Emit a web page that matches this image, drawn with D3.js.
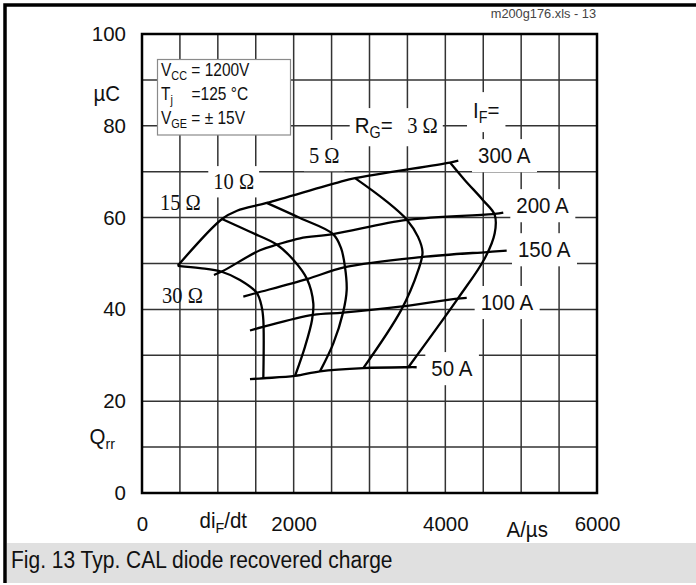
<!DOCTYPE html>
<html><head><meta charset="utf-8">
<script src="https://cdn.jsdelivr.net/npm/d3@7"></script>
<style>body{margin:0;background:#fff}svg{display:block}</style>
</head><body>
<svg id="c" width="696" height="585"></svg>
<script>
// ---------- data (di/dt in A/µs, Qrr in µC) ----------
const xTicks = [0, 2000, 4000, 6000];
const yTicks = [0, 20, 40, 60, 80, 100];
const gridStepX = 500, gridStepY = 10;

// I_F curves (left overshoot, 30Ω, 15Ω, 10Ω, 5Ω, 3Ω, right overshoot + intermediate points)
const if300 = [[471,49.5],[1055,59.7],[1253,61.5],[1644,63.2],[2611,67.8],[2809,68.6],[4062,72.0],[4171,72.4]];
const if200 = [[949,47.5],[1060,48.3],[1556,52.9],[1780,54.1],[2084,55.5],[2519,56.4],[3495,59.5],[4651,60.8],[4764,61.1]];
const if150 = [[1336,42.8],[1513,43.6],[2176,46.6],[2677,49.2],[3679,51.4],[4550,52.5],[4809,52.8]];
const if100 = [[1424,35.4],[1596,36.2],[2255,38.8],[2651,39.3],[3402,40.6],[4128,42.3],[4282,42.5]];
const if50  = [[1424,24.8],[1600,25.0],[2018,25.5],[2347,26.5],[2918,27.2],[3512,27.4],[3622,27.4]];

// R_G curves (from 300 A down to 50 A)
const rg30 = [[471,49.5],[765,49.0],[1051,48.2],[1292,46.4],[1513,43.6],[1578,40.6],[1600,37.7],[1600,25.0]];
const rg15 = [[1055,59.7],[1424,56.9],[1780,54.1],[1995,50.8],[2176,46.6],[2259,41.3],[2242,37.7],[2150,31.9],[2018,25.5]];
const rg10 = [[1644,63.2],[2084,59.9],[2519,56.4],[2624,53.4],[2677,49.2],[2699,44.2],[2651,39.3],[2523,32.6],[2347,26.5]];
const rg5  = [[2809,68.6],[3204,63.8],[3495,59.5],[3640,55.8],[3699,52.5],[3644,48.6],[3419,39.9],[2918,27.2]];
const rg3  = [[4062,72.0],[4255,68.2],[4497,63.8],[4651,60.6],[4651,56.6],[4519,51.1],[4167,42.4],[3512,27.4]];

const ifLabels = ["300 A","200 A","150 A","100 A","50 A"];
const rgLabels = ["30 Ω","15 Ω","10 Ω","5 Ω","3 Ω"];

// ---------- drawing ----------
const W = 696, H = 585;
const ARIAL = "'Liberation Sans', Arial, Helvetica, sans-serif";
const TIMES = "'Liberation Serif', 'Times New Roman', serif";
const svg = d3.select("#c");
const x = d3.scaleLinear().domain([0, 6000]).range([142, 597]);
const y = d3.scaleLinear().domain([0, 100]).range([493, 34]);

svg.append("rect").attr("width", W).attr("height", H).attr("fill", "#fff");
// caption band
svg.append("rect").attr("x", 7).attr("y", 543).attr("width", W - 7).attr("height", 40).attr("fill", "#e0e0e0");
svg.append("path").attr("d", `M5,583 V5 H${W}`).attr("fill", "none").attr("stroke", "#000").attr("stroke-width", 3.5);

const gGrid = svg.append("g");
const gBoxes = svg.append("g");
const gFrame = svg.append("g");
const gCurves = svg.append("g");
const gLabels = svg.append("g");

// grid
gGrid.selectAll("line.v").data(d3.range(gridStepX, 6000, gridStepX)).join("line")
  .attr("x1", d => x(d)).attr("x2", d => x(d)).attr("y1", y(0)).attr("y2", y(100))
  .attr("stroke", "#333").attr("stroke-width", 1.5);
gGrid.selectAll("line.h").data(d3.range(gridStepY, 100, gridStepY)).join("line")
  .attr("y1", d => y(d)).attr("y2", d => y(d)).attr("x1", x(0)).attr("x2", x(6000))
  .attr("stroke", "#333").attr("stroke-width", 1.5);
gFrame.append("rect").attr("x", x(0)).attr("y", y(100)).attr("width", x(6000) - x(0)).attr("height", y(0) - y(100))
  .attr("fill", "none").attr("stroke", "#000").attr("stroke-width", 2.5);

// axes labels
const ax = gLabels.append("g").attr("transform", `translate(0,${y(0)})`)
  .call(d3.axisBottom(x).tickValues(xTicks).tickSize(0).tickPadding(23).tickFormat(d3.format("d")));
const ay = gLabels.append("g").attr("transform", `translate(${x(0)},0)`)
  .call(d3.axisLeft(y).tickValues(yTicks).tickSize(0).tickPadding(16).tickFormat(d3.format("d")));
[ax, ay].forEach(g => {
  g.select(".domain").remove();
  g.selectAll("text").attr("font-family", ARIAL).attr("font-size", 20.5).attr("fill", "#111");
});

// text helper: spans = [[text, kind]] ; kind: "sub" or undefined ; sy = vertical stretch
function addText(g, px, py, spans, size, family, anchor, sy) {
  sy = sy || 1;
  const t = g.append("text").attr("x", 0).attr("y", 0)
    .attr("transform", `translate(${px},${py}) scale(1,${sy})`)
    .attr("font-family", family)
    .attr("font-size", size).attr("fill", "#111").attr("text-anchor", anchor || "start");
  let shifted = 0;
  spans.forEach(([s, kind]) => {
    const ts = t.append("tspan").text(s);
    if (kind === "sub") {
      ts.attr("font-size", size * 0.7).attr("dy", size * 0.22 - shifted);
      shifted = size * 0.22;
    } else {
      if (shifted) ts.attr("dy", -shifted);
      shifted = 0;
    }
  });
  return t;
}
function whiteBox(nodes, padX, padY) {
  const r0 = svg.node().getBoundingClientRect();
  let x0 = Infinity, y0 = Infinity, x1 = -Infinity, y1 = -Infinity;
  nodes.forEach(n => { const b = n.node().getBoundingClientRect();
    x0 = Math.min(x0, b.left - r0.left); y0 = Math.min(y0, b.top - r0.top);
    x1 = Math.max(x1, b.right - r0.left); y1 = Math.max(y1, b.bottom - r0.top); });
  gBoxes.append("rect").attr("x", x0 - padX).attr("y", y0 - padY).attr("width", x1 - x0 + 2 * padX)
    .attr("height", y1 - y0 + 2 * padY).attr("fill", "#fff");
}

// axis titles
addText(gLabels, 120, 101, [["µC"]], 20.5, ARIAL, "end", 1.05);
addText(gLabels, 89.5, 444, [["Q"], ["rr", "sub"]], 20.5, ARIAL, "start", 1.05);
addText(gLabels, 199.5, 528, [["di"], ["F", "sub"], ["/dt"]], 20.5, ARIAL, "start", 1.05);
addText(gLabels, 506.5, 537, [["A/µs"]], 20.5, ARIAL, "start", 1.05);

// I_F labels (anchor in data units)
const ifLabelPos = [[4431,71.9],[4936,61.0],[4958,51.4],[4466,39.9],[3815,25.5]];
ifLabels.forEach((s, i) => {
  const t = addText(gLabels, x(ifLabelPos[i][0]), y(ifLabelPos[i][1]), [[s]], 20.5, ARIAL, "start", 1.1);
  whiteBox([t], 6, 4);
});
// R_G labels
const rgLabelPos = [[264,41.4],[237,61.7],[940,66.2],[2202,71.9]];
rgLabelPos.forEach((p, i) => {
  const t = addText(gLabels, x(p[0]), y(p[1]), [[rgLabels[i]]], 20.5, TIMES, "start", 1.12);
  if (i >= 2) whiteBox([t], 5, 3);
});
// "R_G= 3 Ω" and "I_F="
const tR = addText(gLabels, x(2805), y(78.4), [["R"], ["G", "sub"], ["="]], 20.5, ARIAL, "start", 1.1);
const t3 = addText(gLabels, x(3497), y(78.4), [[rgLabels[4]]], 20.5, TIMES, "start", 1.12);
whiteBox([tR, t3], 5, 5);
const tI = addText(gLabels, x(4365), y(81.7), [["I"], ["F", "sub"], ["="]], 20.5, ARIAL, "start", 1.1);
whiteBox([tI], 6, 6);

// curves
const line = d3.line().x(d => x(d[0])).y(d => y(d[1])).curve(d3.curveCatmullRom.alpha(0.5));
[if300, if200, if150, if100, if50, rg30, rg15, rg10, rg5, rg3].forEach(c => {
  gCurves.append("path").datum(c).attr("d", line).attr("fill", "none")
    .attr("stroke", "#000").attr("stroke-width", 2.3).attr("stroke-linejoin", "round");
});

// legend box
const gLeg = svg.append("g");
gLeg.append("rect").attr("x", 157.5).attr("y", 59.5).attr("width", 133).attr("height", 75.5)
  .attr("fill", "#fff").attr("stroke", "#8a8a8a").attr("stroke-width", 1.2);
addText(gLeg, 161, 76, [["V"], ["CC", "sub"], [" = 1200V"]], 15.5, ARIAL, "start", 1.15);
addText(gLeg, 161, 100, [["T"], ["j", "sub"]], 15.5, ARIAL, "start", 1.15);
addText(gLeg, 191.5, 100, [["=125 °C"]], 15.5, ARIAL, "start", 1.15);
addText(gLeg, 161, 124, [["V"], ["GE", "sub"], [" = ± 15V"]], 15.5, ARIAL, "start", 1.15);

// file tag and caption
addText(svg, 596, 18, [["m200g176.xls - 13"]], 12.8, ARIAL, "end").attr("fill", "#444");
addText(svg, 11, 568, [["Fig. 13 Typ. CAL diode recovered charge"]], 21, ARIAL, "start", 1.1);
</script>
</body></html>
